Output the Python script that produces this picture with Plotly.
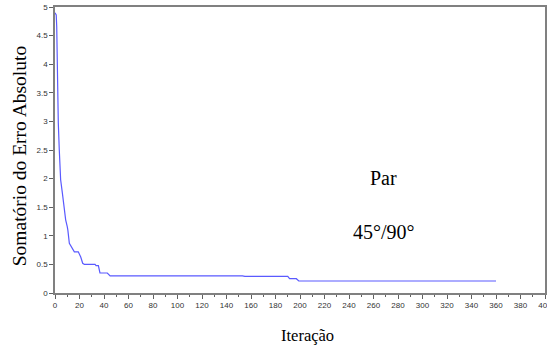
import plotly.graph_objects as go

iteracao = [0, 1, 1.4, 2, 2.7, 3.5, 4.6, 6, 7.3, 8.7, 10, 10.5, 11.7, 13.6, 15.8, 19, 21, 22.6, 24,
            32.7, 33.5, 35.4, 36.7, 42.7, 45, 153, 155, 190, 191.5, 197, 199, 360]
erro = [4.9, 4.86, 4.66, 3.72, 2.97, 2.5, 1.98, 1.75, 1.5, 1.28, 1.16, 1.1, 0.87, 0.8, 0.72, 0.72,
        0.63, 0.52, 0.5, 0.5, 0.48, 0.48, 0.35, 0.35, 0.30, 0.30, 0.29, 0.29, 0.25, 0.25, 0.21, 0.21]

x_ticks = list(range(0, 401, 20))
y_ticks = [0, 0.5, 1, 1.5, 2, 2.5, 3, 3.5, 4, 4.5, 5]
y_labels = ["0", "0.5", "1", "1.5", "2", "2.5", "3", "3.5", "4", "4.5", "5"]

fig = go.Figure()
fig.add_trace(go.Scatter(x=iteracao, y=erro, mode="lines",
                         line=dict(color="#5a5aff", width=1.2), showlegend=False))

serif = "Liberation Serif, Times New Roman, serif"
fig.add_annotation(x=268.5, y=2.01, text="Par", showarrow=False, xanchor="center", yanchor="middle",
                   font=dict(family=serif, size=20, color="black"))
fig.add_annotation(x=268.5, y=1.07, text="45°/90°", showarrow=False, xanchor="center", yanchor="middle",
                   font=dict(family=serif, size=20, color="black"))

# axis titles
fig.add_annotation(xref="paper", yref="paper", x=0.516, y=0, yshift=-42, text="Iteração",
                   xanchor="center", yanchor="middle",
                   showarrow=False, font=dict(family=serif, size=16.5, color="black"))
fig.add_annotation(xref="paper", yref="paper", x=0, xshift=-36, y=0.478, text="Somatório do Erro Absoluto",
                   xanchor="center", yanchor="middle",
                   textangle=-90, showarrow=False, font=dict(family=serif, size=19.5, color="black"))

axis_common = dict(showgrid=False, zeroline=False, showline=True, linecolor="#808080",
                   linewidth=1.5, mirror=True, ticks="outside", ticklen=4, tickcolor="#606060",
                   automargin=False, ticklabeloverflow="allow",
                   tickfont=dict(family="Liberation Sans, Arial, sans-serif", size=8, color="#333333"))

fig.update_xaxes(range=[0, 400], tickvals=x_ticks, ticktext=[str(v) for v in x_ticks],
                 minor=dict(dtick=10, ticks="outside", ticklen=2, tickcolor="#606060"),
                 **axis_common)
fig.update_yaxes(range=[0, 5], tickvals=y_ticks, ticktext=y_labels, **axis_common)

fig.update_layout(width=547, height=346, margin=dict(l=55, r=2, t=7, b=53),
                  plot_bgcolor="white", paper_bgcolor="white")
fig.write_html("out.html", config={"displayModeBar": False},
               post_script="document.body.style.margin='0';")
